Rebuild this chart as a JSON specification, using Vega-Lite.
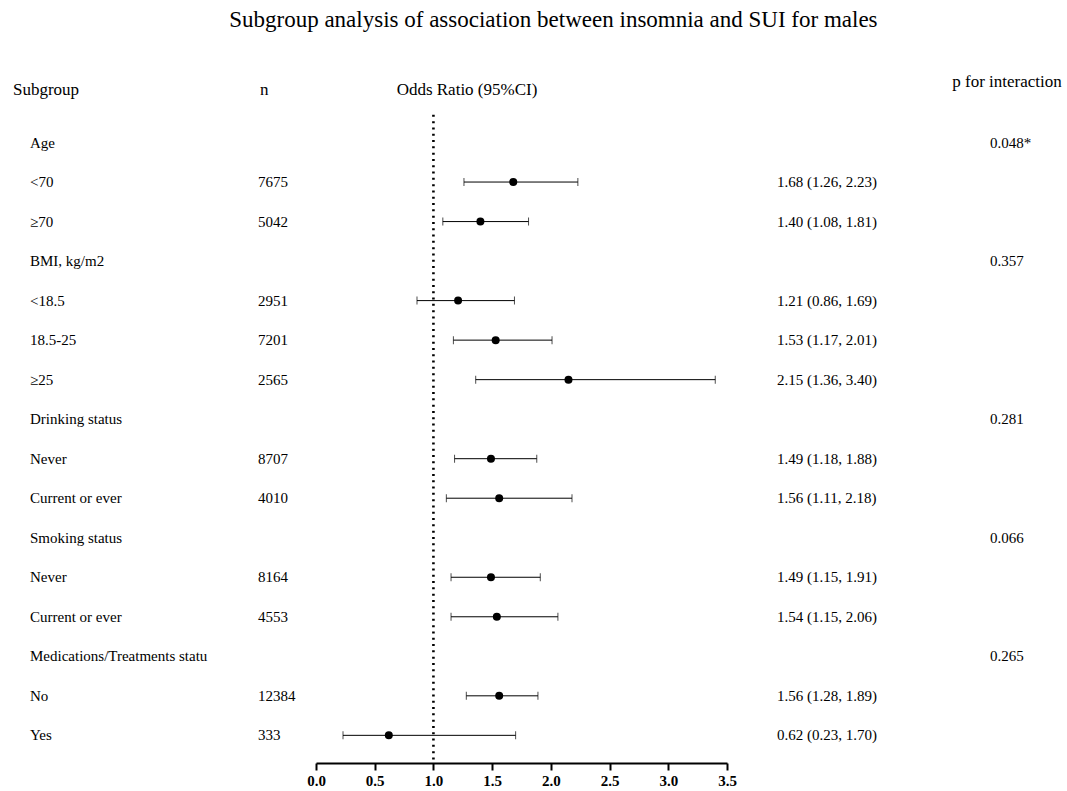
{
  "$schema": "https://vega.github.io/schema/vega-lite/v6.json",
  "padding": {"left": 13, "top": 9, "right": 2, "bottom": 1},
  "background": "white",
  "title": {"text": "Subgroup analysis of association between insomnia and SUI for males", "fontSize": 23, "fontWeight": "normal", "font": "Liberation Serif", "color": "black", "anchor": "middle", "dx": 16, "offset": 41},
  "spacing": 0,
  "bounds": "flush",
  "config": {"font": "Liberation Serif", "view": {"stroke": null}, "title": {"color": "black", "fontWeight": "normal", "font": "Liberation Serif"}},
  "datasets": {
    "rows": [
      {"row": 1, "label": "Age", "p": "0.048*"},
      {"row": 2, "label": "<70", "n": 7675, "or": 1.68, "lo": 1.26, "hi": 2.23, "ortext": "1.68 (1.26, 2.23)"},
      {"row": 3, "label": "≥70", "n": 5042, "or": 1.40, "lo": 1.08, "hi": 1.81, "ortext": "1.40 (1.08, 1.81)"},
      {"row": 4, "label": "BMI, kg/m2", "p": "0.357"},
      {"row": 5, "label": "<18.5", "n": 2951, "or": 1.21, "lo": 0.86, "hi": 1.69, "ortext": "1.21 (0.86, 1.69)"},
      {"row": 6, "label": "18.5-25", "n": 7201, "or": 1.53, "lo": 1.17, "hi": 2.01, "ortext": "1.53 (1.17, 2.01)"},
      {"row": 7, "label": "≥25", "n": 2565, "or": 2.15, "lo": 1.36, "hi": 3.40, "ortext": "2.15 (1.36, 3.40)"},
      {"row": 8, "label": "Drinking status", "p": "0.281"},
      {"row": 9, "label": "Never", "n": 8707, "or": 1.49, "lo": 1.18, "hi": 1.88, "ortext": "1.49 (1.18, 1.88)"},
      {"row": 10, "label": "Current or ever", "n": 4010, "or": 1.56, "lo": 1.11, "hi": 2.18, "ortext": "1.56 (1.11, 2.18)"},
      {"row": 11, "label": "Smoking status", "p": "0.066"},
      {"row": 12, "label": "Never", "n": 8164, "or": 1.49, "lo": 1.15, "hi": 1.91, "ortext": "1.49 (1.15, 1.91)"},
      {"row": 13, "label": "Current or ever", "n": 4553, "or": 1.54, "lo": 1.15, "hi": 2.06, "ortext": "1.54 (1.15, 2.06)"},
      {"row": 14, "label": "Medications/Treatments statu", "p": "0.265"},
      {"row": 15, "label": "No", "n": 12384, "or": 1.56, "lo": 1.28, "hi": 1.89, "ortext": "1.56 (1.28, 1.89)"},
      {"row": 16, "label": "Yes", "n": 333, "or": 0.62, "lo": 0.23, "hi": 1.70, "ortext": "0.62 (0.23, 1.70)"}
    ]
  },
  "hconcat": [
    {
      "width": 245, "height": 660,
      "title": {"text": "Subgroup", "anchor": "start", "fontSize": 17, "offset": 4},
      "data": {"name": "rows"},
      "mark": {"type": "text", "align": "left", "baseline": "middle", "fontSize": 15, "dx": 17, "color": "black"},
      "encoding": {
        "x": {"datum": 0, "type": "quantitative", "scale": {"domain": [0, 1]}, "axis": null},
        "y": {"field": "row", "type": "quantitative", "scale": {"domain": [0, 16.7], "reverse": true, "nice": false, "zero": false}, "axis": null},
        "text": {"field": "label"}
      }
    },
    {
      "width": 58, "height": 660,
      "title": {"text": "n", "anchor": "start", "fontSize": 17, "offset": 4, "dx": 2},
      "data": {"name": "rows"},
      "transform": [{"filter": "isValid(datum.n)"}],
      "mark": {"type": "text", "align": "left", "baseline": "middle", "fontSize": 15, "color": "black"},
      "encoding": {
        "x": {"datum": 0, "type": "quantitative", "scale": {"domain": [0, 1]}, "axis": null},
        "y": {"field": "row", "type": "quantitative", "scale": {"domain": [0, 16.7], "reverse": true, "nice": false, "zero": false}, "axis": null},
        "text": {"field": "n", "type": "quantitative", "format": "d"}
      }
    },
    {
      "width": 411, "height": 660,
      "title": {"text": "Odds Ratio (95%CI)", "anchor": "start", "fontSize": 17, "offset": 4, "dx": 90},
      "layer": [
        {
          "data": {"name": "rows"},
          "transform": [{"filter": "isValid(datum.or)"}],
          "mark": {"type": "rule", "color": "black", "strokeWidth": 1},
          "encoding": {
            "x": {"field": "lo", "type": "quantitative", "scale": {"domain": [0, 3.5], "nice": false, "zero": false},
              "axis": {"values": [0, 0.5, 1, 1.5, 2, 2.5, 3, 3.5], "format": ".1f", "title": null, "grid": false, "domainColor": "black", "domainWidth": 2, "tickColor": "black", "tickWidth": 2, "tickSize": 7, "labelFont": "Liberation Serif", "labelFontSize": 15, "labelFontWeight": "bold", "labelColor": "black", "labelPadding": 3, "labelFlush": false}},
            "x2": {"field": "hi"},
            "y": {"field": "row", "type": "quantitative", "scale": {"domain": [0, 16.7], "reverse": true, "nice": false, "zero": false}, "axis": null}
          }
        },
        {
          "data": {"values": [{"ref": 1}]},
          "mark": {"type": "rule", "color": "black", "strokeWidth": 2.6, "strokeDash": [2, 4.3]},
          "encoding": {
            "x": {"field": "ref", "type": "quantitative"},
            "y": {"datum": 0.3, "type": "quantitative"},
            "y2": {"datum": 16.7}
          }
        },
        {
          "data": {"name": "rows"},
          "transform": [{"filter": "isValid(datum.or)"}],
          "mark": {"type": "tick", "orient": "vertical", "color": "black", "thickness": 1, "size": 8},
          "encoding": {
            "x": {"field": "lo", "type": "quantitative"},
            "y": {"field": "row", "type": "quantitative"}
          }
        },
        {
          "data": {"name": "rows"},
          "transform": [{"filter": "isValid(datum.or)"}],
          "mark": {"type": "tick", "orient": "vertical", "color": "black", "thickness": 1, "size": 8},
          "encoding": {
            "x": {"field": "hi", "type": "quantitative"},
            "y": {"field": "row", "type": "quantitative"}
          }
        },
        {
          "data": {"name": "rows"},
          "transform": [{"filter": "isValid(datum.or)"}],
          "mark": {"type": "point", "filled": true, "color": "black", "opacity": 1, "size": 64},
          "encoding": {
            "x": {"field": "or", "type": "quantitative"},
            "y": {"field": "row", "type": "quantitative"}
          }
        }
      ]
    },
    {
      "width": 240, "height": 660,
      "data": {"name": "rows"},
      "transform": [{"filter": "isValid(datum.ortext)"}],
      "mark": {"type": "text", "align": "left", "baseline": "middle", "fontSize": 15, "dx": 50, "color": "black"},
      "encoding": {
        "x": {"datum": 0, "type": "quantitative", "scale": {"domain": [0, 1]}, "axis": null},
        "y": {"field": "row", "type": "quantitative", "scale": {"domain": [0, 16.7], "reverse": true, "nice": false, "zero": false}, "axis": null},
        "text": {"field": "ortext"}
      }
    },
    {
      "width": 80, "height": 660,
      "title": {"text": "p for interaction", "anchor": "middle", "fontSize": 17, "offset": 12},
      "data": {"name": "rows"},
      "transform": [{"filter": "isValid(datum.p)"}],
      "mark": {"type": "text", "align": "left", "baseline": "middle", "fontSize": 15, "dx": 23, "color": "black"},
      "encoding": {
        "x": {"datum": 0, "type": "quantitative", "scale": {"domain": [0, 1]}, "axis": null},
        "y": {"field": "row", "type": "quantitative", "scale": {"domain": [0, 16.7], "reverse": true, "nice": false, "zero": false}, "axis": null},
        "text": {"field": "p"}
      }
    }
  ]
}
